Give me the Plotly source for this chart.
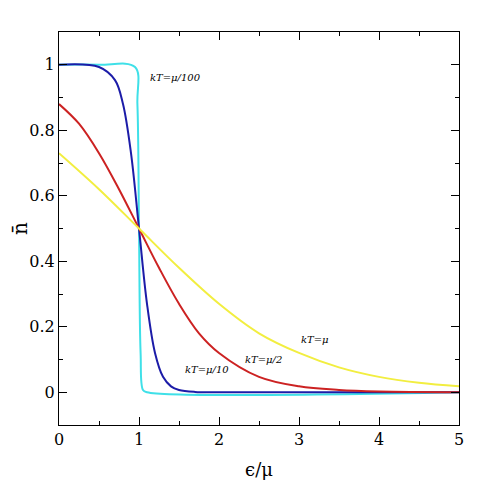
import plotly.graph_objects as go

# values
x_mu100 = [0, 0.5, 0.95, 0.98, 1.0, 1.02, 1.05, 1.1, 5]
n_mu100 = [1.0, 1.0, 0.993, 0.88, 0.5, 0.12, 0.007, 0.0, 0.0]

x_mu10 = [0, 0.5, 0.7, 0.8, 0.9, 1.0, 1.1, 1.2, 1.3, 1.4, 1.5, 1.7, 2.0, 5]
n_mu10 = [1.0, 0.993, 0.953, 0.88, 0.73, 0.5, 0.27, 0.12, 0.047, 0.018, 0.007, 0.001, 0.0, 0.0]

x_mu2 = [0, 0.25, 0.5, 0.75, 1.0, 1.25, 1.5, 1.75, 2.0, 2.5, 3.0, 3.5, 4.0, 5]
n_mu2 = [0.88, 0.82, 0.73, 0.62, 0.5, 0.38, 0.27, 0.18, 0.12, 0.047, 0.018, 0.007, 0.0025, 0.0003]

x_mu = [0, 0.5, 1.0, 1.5, 2.0, 2.5, 3.0, 3.5, 4.0, 4.5, 5]
n_mu = [0.73, 0.62, 0.5, 0.38, 0.27, 0.18, 0.12, 0.076, 0.047, 0.029, 0.018]

labels = ["kT=μ/100", "kT=μ/10", "kT=μ/2", "kT=μ"]
label_x = [1.45, 1.85, 2.55, 3.2]
label_y = [0.96, 0.07, 0.1, 0.16]

fig = go.Figure()
series = [
    (x_mu100, n_mu100, "#3fe0e8"),
    (x_mu10, n_mu10, "#1c1ca8"),
    (x_mu2, n_mu2, "#cc2222"),
    (x_mu, n_mu, "#f2ee40"),
]
for xs, ys, col in series:
    fig.add_trace(go.Scatter(x=xs, y=ys, mode="lines",
                             line=dict(color=col, width=2, shape="spline", smoothing=1),
                             showlegend=False))

for t, lx, ly in zip(labels, label_x, label_y):
    fig.add_annotation(x=lx, y=ly, text=f"<i>{t}</i>", showarrow=False,
                       font=dict(size=10, color="black", family="DejaVu Serif"))

axis = dict(showgrid=False, zeroline=False, showline=True, linecolor="black", mirror="allticks",
            ticks="inside", ticklen=8, tickcolor="black", automargin=False,
            minor=dict(ticks="inside", ticklen=4, tickcolor="black"),
            tickfont=dict(size=16, family="DejaVu Serif", color="black"))
fig.update_xaxes(range=[0, 5], dtick=1, title=dict(text="ϵ/μ", font=dict(size=18)),
                 **axis)
fig.update_yaxes(range=[-0.1, 1.1], dtick=0.2, tickformat="~g",
                 title=dict(text="n̄", font=dict(size=20), standoff=8), **axis)
fig.update_xaxes(minor_dtick=0.5)
fig.update_yaxes(minor_dtick=0.1)

fig.update_layout(width=495, height=483, paper_bgcolor="white", plot_bgcolor="white",
                  margin=dict(l=51, r=44, t=24, b=66),
                  font=dict(family="DejaVu Serif", color="black"))
fig.write_html("out.html")
